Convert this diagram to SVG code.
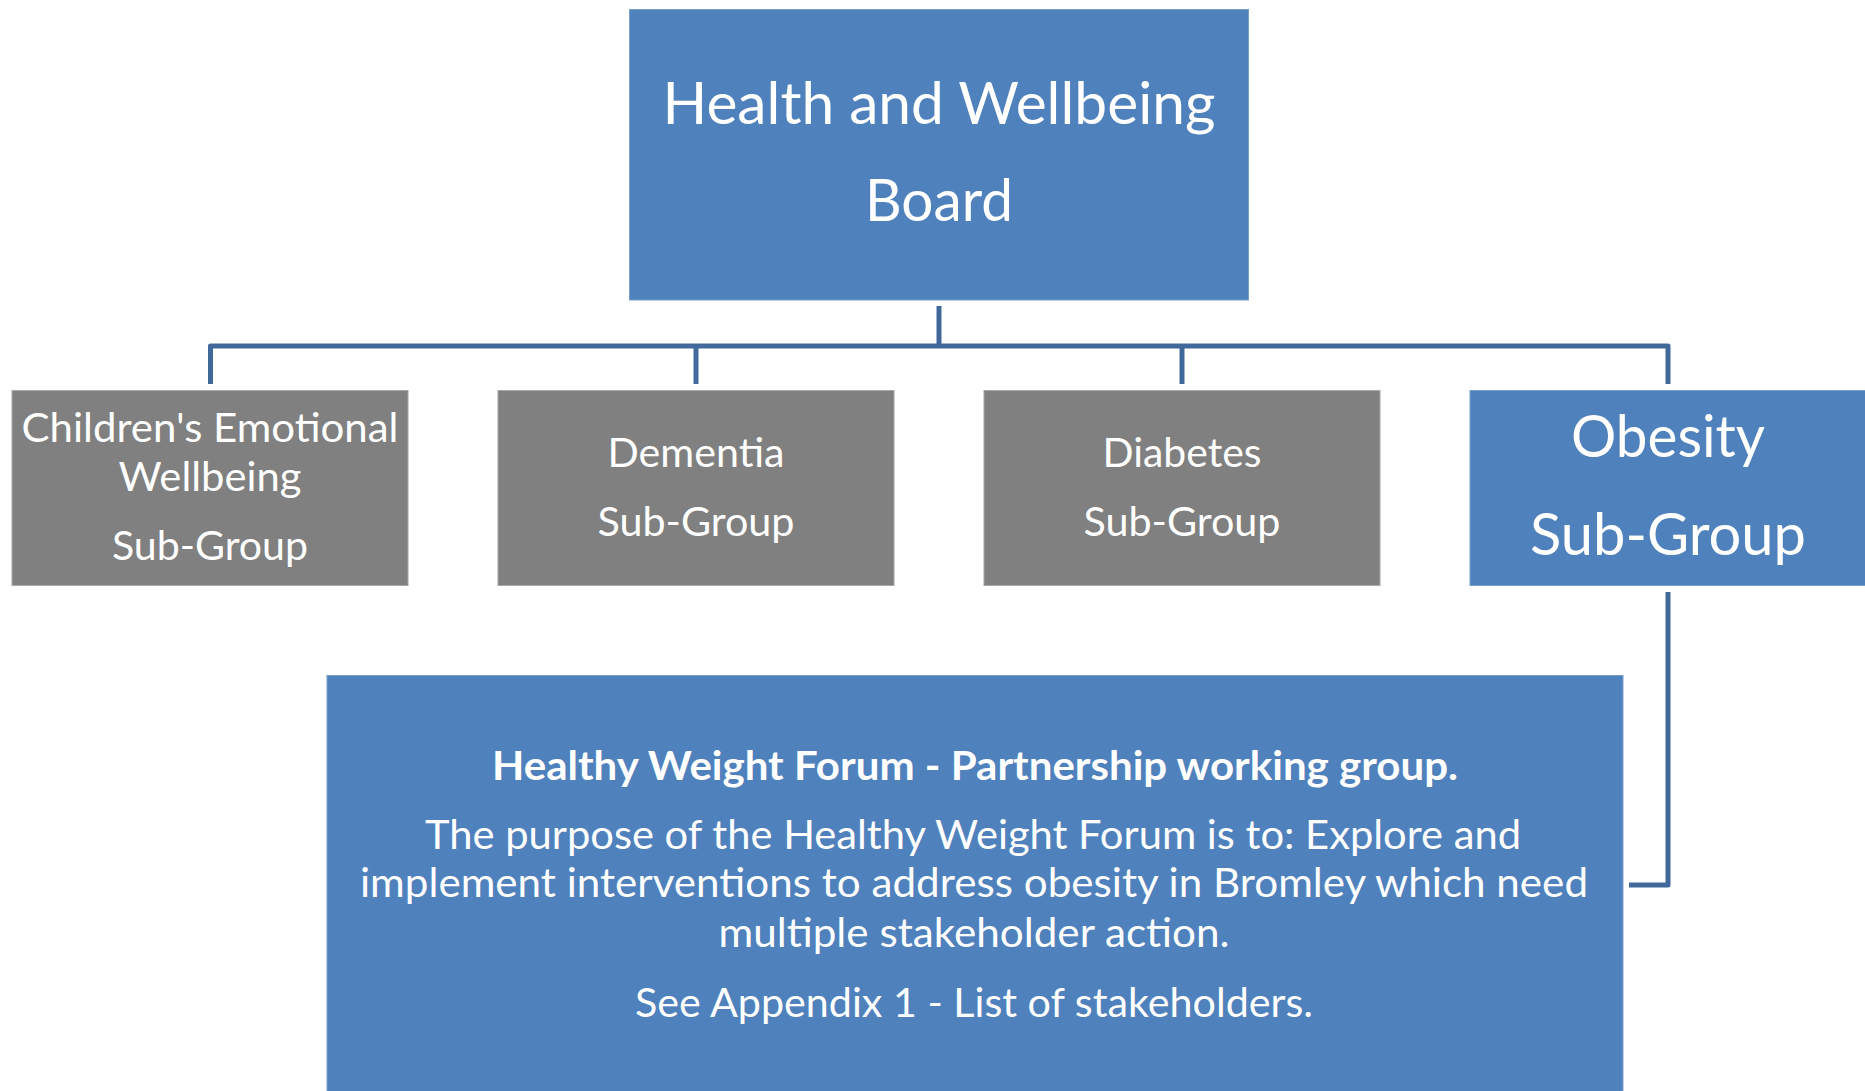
<svg xmlns="http://www.w3.org/2000/svg" width="1865" height="1091" viewBox="0 0 1865 1091">
  <style>
    .blue { fill: #4F81BD; stroke: #7B9FCC; stroke-width: 1; }
    .grey { fill: #808080; stroke: #A6A6A6; stroke-width: 1; }
    .label { font-family: Lato, "Open Sans", sans-serif; fill: #FFFFFF; text-anchor: middle; }
    .conn { fill: none; stroke: #41689A; stroke-width: 5; stroke-linejoin: round; }
  </style>
  <rect width="1865" height="1091" fill="#FFFFFF"/>

  <g id="connectors">
    <path class="conn" d="M939 306 V346"/>
    <path class="conn" d="M210.5 384 V346 H1668 V384"/>
    <path class="conn" d="M696 346 V384"/>
    <path class="conn" d="M1182 346 V384"/>
    <path class="conn" d="M1668 592 V885 H1629"/>
  </g>

  <g id="board">
    <rect class="blue" x="629.5" y="9.5" width="619" height="290.5"/>
    <text class="label" x="939" y="124" font-size="59" textLength="553" lengthAdjust="spacingAndGlyphs">Health and Wellbeing</text>
    <text class="label" x="939" y="220.5" font-size="59" textLength="148" lengthAdjust="spacingAndGlyphs">Board</text>
  </g>

  <g id="children">
    <rect class="grey" x="12" y="390.5" width="396" height="195"/>
    <text class="label" x="210" y="441.5" font-size="41" textLength="377" lengthAdjust="spacingAndGlyphs">Children's Emotional</text>
    <text class="label" x="210" y="490.5" font-size="41" textLength="183" lengthAdjust="spacingAndGlyphs">Wellbeing</text>
    <text class="label" x="210" y="560" font-size="41" textLength="196" lengthAdjust="spacingAndGlyphs">Sub-Group</text>
  </g>

  <g id="dementia">
    <rect class="grey" x="498" y="390.5" width="396" height="195"/>
    <text class="label" x="696" y="467" font-size="41" textLength="177" lengthAdjust="spacingAndGlyphs">Dementia</text>
    <text class="label" x="696" y="536" font-size="41" textLength="197" lengthAdjust="spacingAndGlyphs">Sub-Group</text>
  </g>

  <g id="diabetes">
    <rect class="grey" x="984" y="390.5" width="396" height="195"/>
    <text class="label" x="1182" y="467" font-size="41" textLength="159" lengthAdjust="spacingAndGlyphs">Diabetes</text>
    <text class="label" x="1182" y="536" font-size="41" textLength="197" lengthAdjust="spacingAndGlyphs">Sub-Group</text>
  </g>

  <g id="obesity">
    <rect class="blue" x="1470" y="390.5" width="396" height="195"/>
    <text class="label" x="1668" y="457" font-size="58" textLength="194" lengthAdjust="spacingAndGlyphs">Obesity</text>
    <text class="label" x="1668" y="555" font-size="58" textLength="276" lengthAdjust="spacingAndGlyphs">Sub-Group</text>
  </g>

  <g id="forum">
    <rect class="blue" x="327" y="675.5" width="1296" height="420"/>
    <text class="label" x="975" y="780" font-size="40" font-weight="bold" textLength="966" lengthAdjust="spacingAndGlyphs">Healthy Weight Forum - Partnership working group.</text>
    <text class="label" x="973" y="848.5" font-size="41" textLength="1096" lengthAdjust="spacingAndGlyphs">The purpose of the Healthy Weight Forum is to: Explore and</text>
    <text class="label" x="974" y="896.5" font-size="41" textLength="1228" lengthAdjust="spacingAndGlyphs">implement interventions to address obesity in Bromley which need</text>
    <text class="label" x="974" y="947" font-size="41" textLength="511" lengthAdjust="spacingAndGlyphs">multiple stakeholder action.</text>
    <text class="label" x="974" y="1016.5" font-size="41" textLength="678" lengthAdjust="spacingAndGlyphs">See Appendix 1 - List of stakeholders.</text>
  </g>
</svg>
